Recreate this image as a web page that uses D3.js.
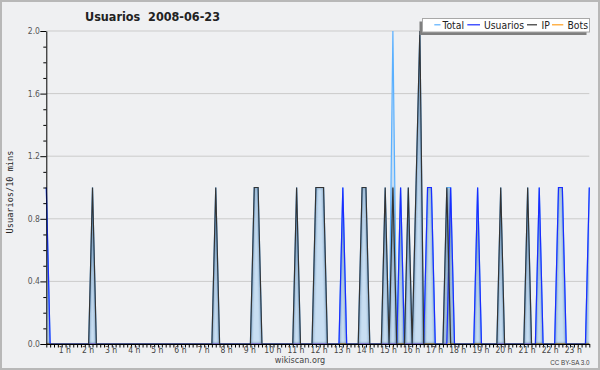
<!DOCTYPE html>
<html><head><meta charset="utf-8">
<script src="https://cdn.jsdelivr.net/npm/d3@7"></script>
<style>body{margin:0;background:#fff}svg{display:block}</style>
</head><body>
<script>
// ---- data (10-minute slots, 00:00 .. 23:30) ----
const hourLabels = ["1 h","2 h","3 h","4 h","5 h","6 h","7 h","8 h","9 h","10 h","11 h","12 h","13 h","14 h","15 h","16 h","17 h","18 h","19 h","20 h","21 h","22 h","23 h"];
const yTicks = [0.0, 0.4, 0.8, 1.2, 1.6, 2.0];
const seriesNames = ["Total","Usuarios","IP","Bots"];
const total = [
 1,0,0,0,0,0,0,0,0,0,0,0,
 1,0,0,0,0,0,0,0,0,0,0,0,
 0,0,0,0,0,0,0,0,0,0,0,0,
 0,0,0,0,0,0,0,0,1,0,0,0,
 0,0,0,0,0,0,1,1,0,0,0,0,
 0,0,0,0,0,1,0,0,0,0,1,1,
 1,0,0,0,0,1,0,0,0,0,1,1,
 0,0,0,0,1,0,2,0,1,0,1,0,
 1,2,0,1,1,0,0,0,1,1,0,0,
 0,0,0,0,1,0,0,0,0,0,1,0,
 0,0,0,0,0,1,0,0,1,0,0,0,
 0,1,1,0,0,0,0,0,0,1];
const usuarios = [
 1,0,0,0,0,0,0,0,0,0,0,0,
 0,0,0,0,0,0,0,0,0,0,0,0,
 0,0,0,0,0,0,0,0,0,0,0,0,
 0,0,0,0,0,0,0,0,0,0,0,0,
 0,0,0,0,0,0,0,0,0,0,0,0,
 0,0,0,0,0,0,0,0,0,0,0,0,
 0,0,0,0,0,1,0,0,0,0,0,0,
 0,0,0,0,0,0,0,0,1,0,0,0,
 0,0,0,1,1,0,0,0,0,1,0,0,
 0,0,0,0,1,0,0,0,0,0,0,0,
 0,0,0,0,0,0,0,0,1,0,0,0,
 0,1,1,0,0,0,0,0,0,1];
const ip = [
 0,0,0,0,0,0,0,0,0,0,0,0,
 1,0,0,0,0,0,0,0,0,0,0,0,
 0,0,0,0,0,0,0,0,0,0,0,0,
 0,0,0,0,0,0,0,0,1,0,0,0,
 0,0,0,0,0,0,1,1,0,0,0,0,
 0,0,0,0,0,1,0,0,0,0,1,1,
 1,0,0,0,0,0,0,0,0,0,1,1,
 0,0,0,0,1,0,1,0,0,0,1,0,
 1,2,0,0,0,0,0,0,1,0,0,0,
 0,0,0,0,0,0,0,0,0,0,1,0,
 0,0,0,0,0,1,0,0,0,0,0,0,
 0,0,0,0,0,0,0,0,0,0];
const bots = [
 0,0,0,0,0,0,0,0,0,0,0,0,
 0,0,0,0,0,0,0,0,0,0,0,0,
 0,0,0,0,0,0,0,0,0,0,0,0,
 0,0,0,0,0,0,0,0,0,0,0,0,
 0,0,0,0,0,0,0,0,0,0,0,0,
 0,0,0,0,0,0,0,0,0,0,0,0,
 0,0,0,0,0,0,0,0,0,0,0,0,
 0,0,0,0,0,0,0,0,0,0,0,0,
 0,0,0,0,0,0,0,0,0,0,0,0,
 0,0,0,0,0,0,0,0,0,0,0,0,
 0,0,0,0,0,0,0,0,0,0,0,0,
 0,0,0,0,0,0,0,0,0,0];

const F = '"DejaVu Sans Condensed","DejaVu Sans",sans-serif';
const W = 600, H = 370;
const svg = d3.select("body").append("svg").attr("width", W).attr("height", H);

svg.append("rect").attr("x",1).attr("y",1).attr("width",W-2).attr("height",H-2)
  .attr("fill","#eff0f2").attr("stroke","#b8b8b8").attr("stroke-width",2);

const n = total.length;
const x = d3.scaleLinear().domain([0, n-1]).range([46.3, 589.3]);
const y = d3.scaleLinear().domain([0, 2]).range([344, 31]);

// grid
svg.append("g").selectAll("line").data(yTicks.filter(d=>d>0)).join("line")
  .attr("x1", x(0)).attr("x2", x(n-1)).attr("y1", d=>y(d)).attr("y2", d=>y(d))
  .attr("stroke","#cbcbcb").attr("stroke-width",1);

const defs = svg.append("defs");
const area = d3.area().x((d,i)=>x(i)).y0(y(0)).y1(d=>y(d));
defs.append("clipPath").attr("id","ac").append("path").attr("d", area(total));
const blur = defs.append("filter").attr("id","bl").attr("x","-20%").attr("y","-20%").attr("width","140%").attr("height","140%");
blur.append("feGaussianBlur").attr("stdDeviation",1.2);

svg.append("path").attr("d", area(total)).attr("fill","#c8def2");

const line = d3.line().x((d,i)=>x(i)).y(d=>y(d));
const shade = svg.append("g").attr("clip-path","url(#ac)");
[ip, usuarios].forEach(s=>{
  shade.append("path").attr("d", line(s)).attr("fill","none")
    .attr("stroke","#2f5c88").attr("stroke-width",2.2).attr("opacity",0.5)
    .attr("filter","url(#bl)");
});

const colors = {Total:"#5ab0ff", Usuarios:"#1a2cff", IP:"#333333", Bots:"#ffa020"};
const dataBy = {Total: total, Usuarios: usuarios, IP: ip, Bots: bots};
["Bots","Total","Usuarios","IP"].forEach(k=>{
  svg.append("path").attr("d", line(dataBy[k])).attr("fill","none")
    .attr("stroke", colors[k]).attr("stroke-width",1.2).attr("stroke-linejoin","miter");
});

// y axis
const yMinor = d3.range(0, 21).map(v=>v/10);
const yAx = svg.append("g").attr("transform",`translate(${x(0)},0)`)
  .call(d3.axisLeft(y).tickValues(yMinor).tickSize(3).tickFormat("").tickSizeOuter(0));
yAx.selectAll(".tick line").attr("x2", d => (Math.round(d*10) % 4 === 0) ? -6 : -3);
yAx.select(".domain").attr("stroke","#000");
svg.append("g").selectAll("text").data(yTicks).join("text")
  .attr("x", 40).attr("y", d=>y(d)).attr("dy","0.35em").attr("text-anchor","end")
  .attr("font-family",F).attr("font-size",8.5).attr("fill","#555").text(d=>d.toFixed(1));

// x axis
const xAx = svg.append("g").attr("transform",`translate(0,${y(0)})`)
  .call(d3.axisBottom(x).tickValues(d3.range(0,n)).tickSize(3.5).tickFormat("").tickSizeOuter(0));
xAx.select(".domain").attr("stroke","#000");
xAx.selectAll(".tick line").attr("stroke","#000");
svg.append("g").selectAll("text").data(hourLabels).join("text")
  .attr("x", (d,i)=>x((i+1)*6)-4.5).attr("y", 353.3).attr("text-anchor","middle")
  .attr("font-family",F).attr("font-size",8.5).attr("fill","#444").text(d=>d);

// titles
svg.append("text").attr("x",85).attr("y",21).attr("font-family",F).attr("font-weight","bold")
  .attr("font-size",12.5).attr("fill","#222").style("white-space","pre").text("Usuarios  2008-06-23");
svg.append("text").attr("transform","translate(13,192) rotate(-90)").attr("text-anchor","middle")
  .attr("font-family",'"DejaVu Sans Mono",monospace').attr("font-size",8.6).attr("fill","#222")
  .text("Usuarios/10 mins");
svg.append("text").attr("x",300).attr("y",362.5).attr("text-anchor","middle")
  .attr("font-family",F).attr("font-size",9).attr("fill","#444").text("wikiscan.org");
svg.append("text").attr("x",589.5).attr("y",365).attr("text-anchor","end")
  .attr("font-family",'"Liberation Sans",sans-serif').attr("font-size",6.3).attr("fill","#444").text("CC BY-SA 3.0");

// legend
svg.append("rect").attr("x",419.5).attr("y",21.5).attr("width",167).attr("height",13.5).attr("fill","#7f7f7f");
svg.append("rect").attr("x",422.5).attr("y",18.5).attr("width",167).attr("height",13.5)
  .attr("fill","#fff").attr("stroke","#a8a8a8").attr("stroke-width",1);
const legPos = [{l1:434.3,l2:440.5,t:442.5},{l1:467.3,l2:480,t:484},{l1:527,l2:537,t:541.5},{l1:552,l2:563.3,t:567.5}];
seriesNames.forEach((k,i)=>{
  const p = legPos[i];
  svg.append("line").attr("x1",p.l1).attr("x2",p.l2).attr("y1",24.8).attr("y2",24.8)
    .attr("stroke",colors[k]).attr("stroke-width",1.2);
  svg.append("text").attr("x",p.t).attr("y",28.5).attr("font-family",F).attr("font-size",10.3)
    .attr("fill","#222").text(k);
});
</script>
</body></html>
